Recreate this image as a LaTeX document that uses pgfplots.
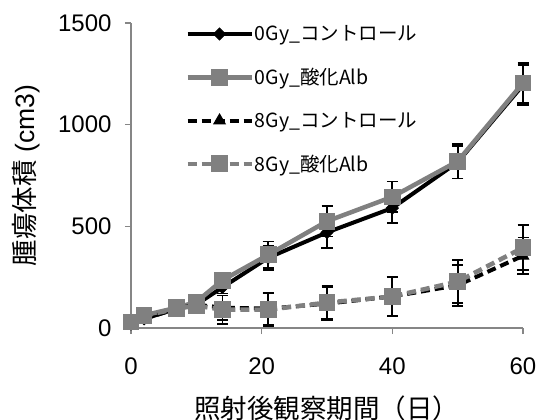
\documentclass[border=0pt]{standalone}
\usepackage{fontspec}
\setmainfont{Liberation Sans}
\newfontfamily\cjk{Noto Sans CJK JP}
\usepackage{pgfplots}
\usepackage{pgfplotstable}
\pgfplotsset{compat=1.18}
\definecolor{axgray}{HTML}{868686}
\definecolor{sgray}{HTML}{808080}

\pgfplotstableread{
x y e
0 20 10
2 45 15
7 95 20
10 115 20
14 200 30
21 345 60
30 470 75
40 590 72
50 815 80
60 1195 100
}\ctrlA
\pgfplotstableread{
x y e
0 30 10
2 62 15
7 100 25
10 128 25
14 235 30
21 360 65
30 525 75
40 645 75
50 820 85
60 1205 100
}\albA
\pgfplotstableread{
x y e
0 20 10
2 45 15
7 95 20
10 115 20
14 100 60
21 95 80
30 120 80
40 155 95
50 210 100
60 355 90
}\ctrlB
\pgfplotstableread{
x y e
0 30 10
2 60 15
7 95 20
10 110 25
14 90 70
21 90 80
30 125 80
40 155 95
50 228 105
60 395 110
}\albB

\begin{document}
\begin{tikzpicture}
\path[use as bounding box] (0,0) rectangle (540bp,420bp);
\begin{axis}[
 at={(131bp,92bp)}, anchor=south west,
 scale only axis, width=392bp, height=305bp,
 xmin=0, xmax=60, ymin=0, ymax=1500,
 xtick={0,20,40,60}, ytick={0,500,1000,1500},
 axis x line*=bottom, axis y line*=left,
 axis line style={axgray, line width=1.5bp},
 tick style={axgray, line width=1.5bp},
 tick align=outside, major tick length=6bp,
 tick label style={font=\fontsize{24bp}{28bp}\selectfont, black},
 xticklabel style={yshift=-20bp},
 yticklabel style={xshift=-10bp},
 /pgf/number format/assume math mode=true,
 /pgf/number format/1000 sep={},
 scaled ticks=false,
 clip=false,
 xlabel={{\cjk 照射後観察期間（日）}},
 ylabel={{\cjk 腫瘍体積} (cm3)},
 every axis x label/.style={at={(rel axis cs:0.5,0)}, anchor=center, yshift=-80bp, font=\fontsize{26.5bp}{30bp}\selectfont},
 every axis y label/.style={at={(rel axis cs:0,0.5)}, xshift=-105bp, rotate=90, anchor=center, font=\fontsize{26.5bp}{30bp}\selectfont},
 legend cell align=left,
 legend style={at={(rel axis cs:0.138,0.995)}, anchor=north west, draw=none, fill=none,
   font=\cjk\fontsize{19.5bp}{22bp}\selectfont, row sep=24bp, inner sep=0pt,
   nodes={inner sep=1bp}},
 legend image code/.code={\draw[mark repeat=2,mark phase=2,#1] plot coordinates {(0bp,0bp) (32bp,0bp) (64bp,0bp)};},
 error bars/y dir=both, error bars/y explicit,
 error bars/error bar style={black, line width=1.8bp, solid},
 error bars/error mark options={black, line width=1.8bp, mark size=5.5bp, solid, rotate=90},
]
\addplot[black, line width=4bp, mark=square*, mark size=4.2bp, mark options={rotate=45, solid, line width=1bp}]
  table[x=x, y=y, y error=e] {\ctrlA};
\addlegendentry{0Gy\_コントロール}
\addplot[sgray, line width=4.5bp, mark=square*, mark size=7.8bp, mark options={solid, line width=1bp}]
  table[x=x, y=y, y error=e] {\albA};
\addlegendentry{0Gy\_酸化Alb}
\addplot[black, line width=4bp, dash pattern=on 9bp off 5bp, mark=triangle*, mark size=6.5bp, mark options={solid, line width=1bp}]
  table[x=x, y=y, y error=e] {\ctrlB};
\addlegendentry{8Gy\_コントロール}
\addplot[sgray, line width=4.5bp, dash pattern=on 9bp off 5bp, mark=square*, mark size=7.8bp, mark options={solid, line width=1bp}]
  table[x=x, y=y, y error=e] {\albB};
\addlegendentry{8Gy\_酸化Alb}
\end{axis}
\end{tikzpicture}
\end{document}
